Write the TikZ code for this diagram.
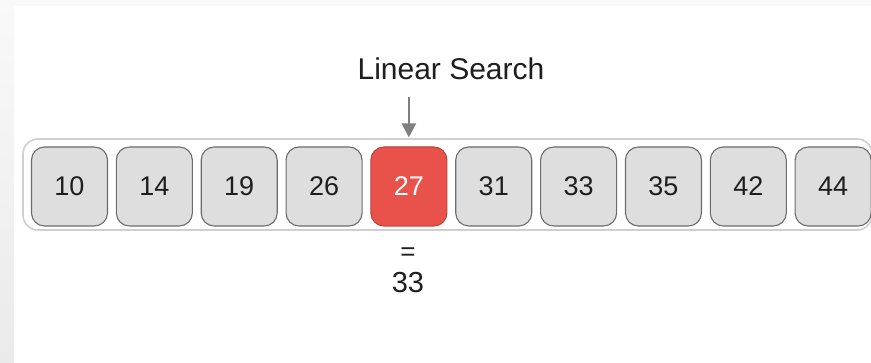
\documentclass[tikz,border=0pt]{standalone}
\usepackage{fontspec}
\setmainfont{Liberation Sans}
\usetikzlibrary{arrows.meta}
\definecolor{boxfill}{HTML}{DEDEDE}
\definecolor{boxline}{HTML}{6C6C6C}
\definecolor{hitfill}{HTML}{E8524A}
\definecolor{hitline}{HTML}{C2433C}
\definecolor{frameline}{HTML}{CFCFCF}
\definecolor{txt}{HTML}{1E1E1E}
\definecolor{arrowgray}{HTML}{7F7F7F}
\definecolor{stripA}{HTML}{F9F9F9}
\definecolor{stripB}{HTML}{EAEAEA}
\tikzset{
  cell/.style={draw=boxline, line width=1.1pt, fill=boxfill, rounded corners=13pt,
    minimum width=76pt, minimum height=79pt, inner sep=0pt,
    font=\fontsize{27}{30}\selectfont, text=txt},
  hit/.style={cell, draw=hitline, fill=hitfill, text=white},
  frame/.style={draw=frameline, line width=1.6pt, fill=white, rounded corners=15pt,
    minimum width=849pt, minimum height=91pt, inner sep=0pt},
  label/.style={font=\fontsize{30}{34}\selectfont, text=txt, inner sep=0pt},
  pointer/.style={draw=arrowgray, line width=2.4pt, -{Triangle[width=14pt,length=14pt]}}
}
\begin{document}
\begin{tikzpicture}[x=1pt,y=1pt]
\useasboundingbox (0,0) rectangle (871,363);
\clip (0,0) rectangle (871,363);
\fill[white] (0,0) rectangle (871,363);
\fill[stripA] (0,357) rectangle (871,363);
\shade[top color=stripA, bottom color=stripB] (0,0) rectangle (14,363);
\node[frame] (array) at (447.5,178.5) {};
\foreach \v [count=\i from 0] in {10,14,19,26,27,31,33,35,42,44}{
  \ifnum\i=4
    \node[hit] (b\i) at ({69.5+84.85*\i},176.5) {\v};
  \else
    \node[cell] (b\i) at ({69.5+84.85*\i},176.5) {\v};
  \fi
}
\node[label, anchor=base] (title) at (451,283) {Linear Search};
\coordinate (arrtop) at (b4.north |- 0,266);
\draw[pointer] (arrtop) -- ([yshift=9pt]b4.north);
\node[label, font=\fontsize{26}{30}\selectfont] (eq) at (408,109) {=};
\node[label, font=\fontsize{29}{32}\selectfont] (res) at (408,80) {33};
\end{tikzpicture}
\end{document}
